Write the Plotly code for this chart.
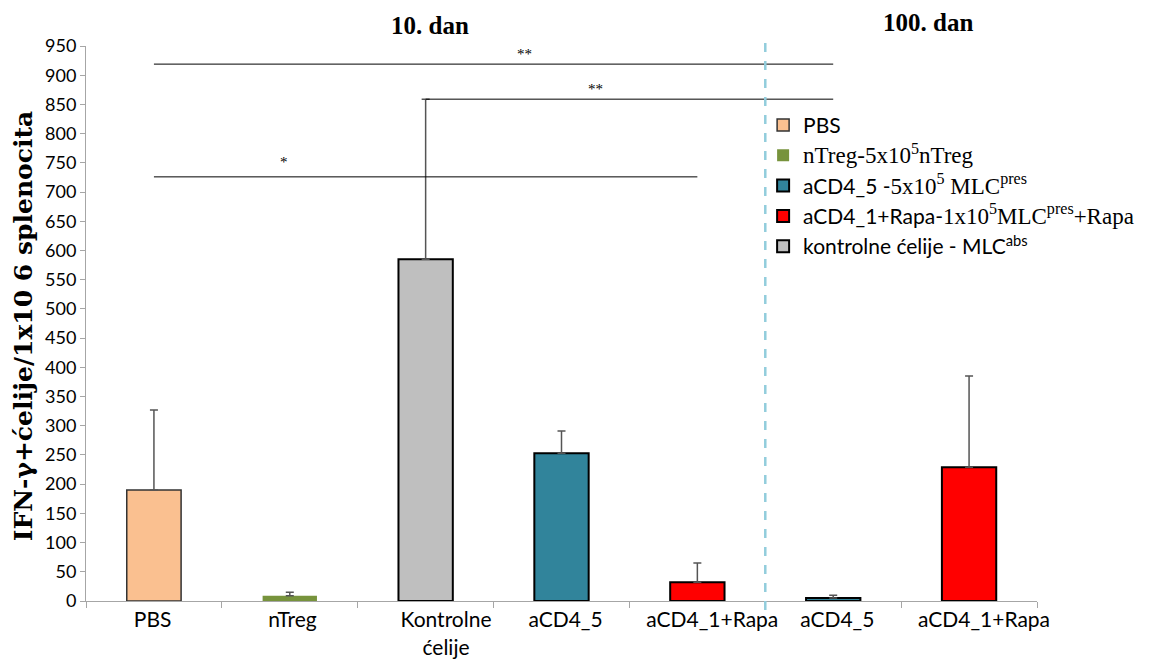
import plotly.graph_objects as go

# ---- data ----
x_labels = ["PBS", "nTreg", "Kontrolne<br>ćelije", "aCD4_5", "aCD4_1+Rapa", "aCD4_5", "aCD4_1+Rapa"]
pbs_val, pbs_err = [190], [137]
ntreg_val, ntreg_err = [9], [6]
kontrol_val, kontrol_err = [585], [274]
acd45_val, acd45_err = [253, 5], [38, 5]
acd41_val, acd41_err = [32, 229], [33, 156]
y_ticks = list(range(0, 951, 50))

# label placement (layout only)
label_pos = [-0.01, 1.02, 2.15, 3.03, 4.11, 5.03, 6.11]

serif = "Liberation Serif, Times New Roman, serif"
sans = "Lato, Carlito, sans-serif"

def sp(t):
    return f"<span style='font-family:{serif};font-size:23px'>{t}</span>"

series = [
    dict(name="PBS", x=[0], y=pbs_val, e=pbs_err, color="#FAC090", line="#333333", lw=1.5),
    dict(name=sp("nTreg-5x10<sup>5</sup>nTreg"), x=[1], y=ntreg_val, e=ntreg_err, color="#77933C", line="#77933C", lw=0),
    dict(name="aCD4_5 -" + sp("5x10<sup>5</sup> MLC<sup>pres</sup>"), x=[3, 5], y=acd45_val, e=acd45_err, color="#31849B", line="#000000", lw=2),
    dict(name="aCD4_1+Rapa-" + sp("1x10<sup>5</sup>MLC<sup>pres</sup>+Rapa"), x=[4, 6], y=acd41_val, e=acd41_err, color="#FF0000", line="#000000", lw=2),
    dict(name="kontrolne ćelije - MLC<sup>abs</sup>", x=[2], y=kontrol_val, e=kontrol_err, color="#BFBFBF", line="#000000", lw=2),
]

fig = go.Figure()
for i, s in enumerate(series):
    fig.add_trace(go.Bar(
        x=s["x"], y=s["y"], name=s["name"], width=0.4,
        marker=dict(color=s["color"], line=dict(color=s["line"], width=s["lw"])),
        error_y=dict(type="data", array=s["e"], arrayminus=[0] * len(s["e"]), symmetric=False,
                     color="#555555", thickness=1.5, width=4),
        legendgroup=f"g{i}",
    ))

# significance brackets
sig = [
    (0, 5, 919, "**", 2.73, 0),
    (2, 5, 859, "**", 3.25, 0),
    (0, 4, 726, "*", 0.96, 5),
]
for x0, x1, yv, txt, tx, ys in sig:
    fig.add_shape(type="line", xref="x", yref="y", x0=x0, x1=x1, y0=yv, y1=yv,
                  line=dict(color="#000000", width=1))
    fig.add_annotation(x=tx, y=yv, xref="x", yref="y", text=txt, showarrow=False,
                       yanchor="bottom", yshift=ys, font=dict(family=serif, size=15, color="#000"))

# day separator
fig.add_shape(type="line", xref="x", yref="paper", x0=4.5, x1=4.5, y0=-0.016, y1=1.007,
              line=dict(color="#92CDDC", width=2.5, dash="dash"))

# titles
fig.add_annotation(x=2.03, y=1.0, xref="x", yref="paper", yshift=21, yanchor="middle",
                   text="<b>10. dan</b>",
                   showarrow=False, font=dict(family=serif, size=25, color="#000"))
fig.add_annotation(x=5.7, y=1.0, xref="x", yref="paper", yshift=24, yanchor="middle",
                   text="<b>100. dan</b>",
                   showarrow=False, font=dict(family=serif, size=25, color="#000"))
# y title
fig.add_annotation(x=-0.5, y=0.495, xref="x", yref="paper", xshift=-63, xanchor="center",
                   yanchor="middle",
                   text="<b>IFN-γ+ćelije/1x10 6 splenocita</b>", textangle=-90,
                   showarrow=False, font=dict(family="DejaVu Serif, serif", size=25, color="#000"))

fig.update_layout(
    width=1150, height=651,
    margin=dict(l=78, r=121, t=38, b=58, autoexpand=False),
    plot_bgcolor="white", paper_bgcolor="white",
    barmode="overlay",
    font=dict(family=sans, color="#000"),
    legend=dict(x=0.712, y=0.894, xanchor="left", yanchor="top", bgcolor="rgba(0,0,0,0)",
                font=dict(family=sans, size=21, color="#000"), tracegroupgap=0,
                traceorder="grouped"),
    showlegend=True,
)
fig.update_xaxes(
    range=[-0.5, 6.5], tickmode="array", tickvals=label_pos, ticktext=x_labels,
    ticks="", showline=True, linecolor="#A6A6A6", linewidth=1, showgrid=False, zeroline=False,
    automargin=False,
    tickfont=dict(family=sans, size=21, color="#000"),
    minor=dict(tickmode="linear", tick0=-0.5, dtick=1, ticks="outside", ticklen=6,
               tickcolor="#A6A6A6", showgrid=False),
)
fig.update_yaxes(
    range=[0, 950], tickmode="array", tickvals=y_ticks, ticks="outside", ticklen=5,
    tickcolor="#A6A6A6", showline=True, linecolor="#A6A6A6", linewidth=1, automargin=False,
    showgrid=False, zeroline=False, tickfont=dict(family=sans, size=18, color="#000"),
)

fig.write_html("out.html")
